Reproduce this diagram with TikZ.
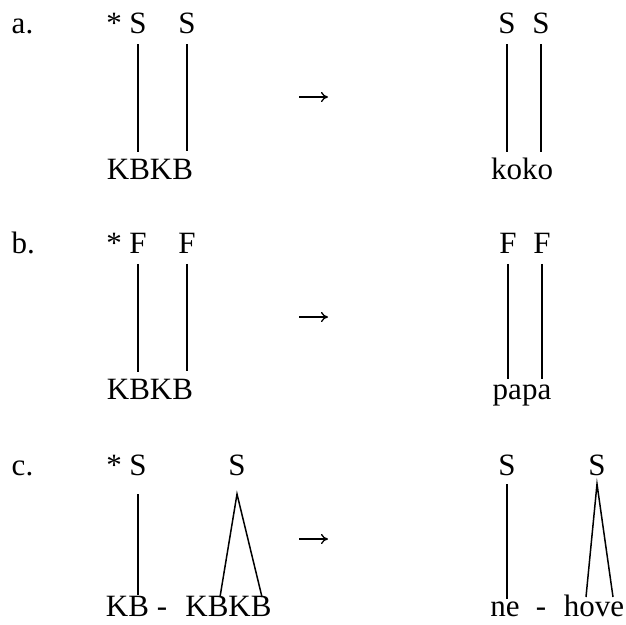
\documentclass[tikz,border=0pt]{standalone}
\usepackage{fontspec}
\setmainfont{Liberation Serif}
\usetikzlibrary{arrows.meta}
\begin{document}
\begin{tikzpicture}[x=1pt, y=-1pt, line width=1.5pt,
    every node/.style={inner sep=0pt, font=\fontsize{31}{36}\selectfont},
    ling/.style={anchor=base},
    rule/.style={line width=1.3pt, -{To[length=7pt,width=10pt]}}]
  \useasboundingbox (0,0) rectangle (626,624);
  % a.
  \node[anchor=base west] (la) at (11,33) {a.};
  \node[ling] (sta) at (114,33) {*};
  \node[ling] (sa1) at (138,33) {S};
  \node[ling] (sa2) at (187,33) {S};
  \node[ling] (kba) at (150,179) {KBKB};
  \draw ([yshift=-10pt]sa1.south) -- ([yshift=6pt]kba.north -| sa1);
  \draw ([yshift=-10pt]sa2.south) -- ([yshift=7pt]kba.north -| sa2);
  \coordinate (ara0) at (299,97);
  \coordinate (ara1) at (328,97);
  \draw[rule] (ara0) -- (ara1);
  \node[ling] (ta1) at (507,33) {S};
  \node[ling] (ta2) at (541,33) {S};
  \node[ling] (koko) at (522,179) {koko};
  \draw ([yshift=-10pt]ta1.south) -- ([yshift=5pt]koko.north -| ta1);
  \draw ([yshift=-10pt]ta2.south) -- ([yshift=5pt]koko.north -| ta2);
  % b.
  \node[anchor=base west] (lb) at (11,253) {b.};
  \node[ling] (stb) at (114,253) {*};
  \node[ling] (fb1) at (138,253) {F};
  \node[ling] (fb2) at (187,253) {F};
  \node[ling] (kbb) at (150,399) {KBKB};
  \draw ([yshift=-10pt]fb1.south) -- ([yshift=6pt]kbb.north -| fb1);
  \draw ([yshift=-10pt]fb2.south) -- ([yshift=7pt]kbb.north -| fb2);
  \coordinate (arb0) at (299,317);
  \coordinate (arb1) at (328,317);
  \draw[rule] (arb0) -- (arb1);
  \node[ling] (tb1) at (508,253) {F};
  \node[ling] (tb2) at (542,253) {F};
  \node[ling] (papa) at (522,399) {papa};
  \draw ([yshift=-10pt]tb1.south) -- ([yshift=5pt]papa.north -| tb1);
  \draw ([yshift=-10pt]tb2.south) -- ([yshift=5pt]papa.north -| tb2);
  % c.
  \node[anchor=base west] (lc) at (11,475) {c.};
  \node[ling] (stc) at (114,475) {*};
  \node[ling] (sc1) at (138,475) {S};
  \node[ling] (sc2) at (237,475) {S};
  \node[ling] (kbc1) at (127.5,616) {KB};
  \node[ling] (dc1) at (162,616) {-};
  \node[ling] (kbc2) at (228.5,616) {KBKB};
  \coordinate (c2l) at (220,597);
  \coordinate (c2r) at (262,597);
  \draw ([yshift=-18pt]sc1.south) -- (kbc1.north -| sc1);
  \draw (c2l) -- ([yshift=-18pt]sc2.south) -- (c2r);
  \coordinate (arc0) at (299,539);
  \coordinate (arc1) at (328,539);
  \draw[rule] (arc0) -- (arc1);
  \node[ling] (tc1) at (507,475) {S};
  \node[ling] (tc2) at (597,475) {S};
  \node[ling] (ne) at (505,616) {ne};
  \node[ling] (dc2) at (541,616) {-};
  \node[ling] (hove) at (594,616) {hove};
  \coordinate (d2l) at (586,597);
  \coordinate (d2r) at (613,597);
  \draw ([yshift=-8pt]tc1.south) -- ([yshift=2pt]ne.north -| tc1);
  \draw (d2l) -- ([yshift=-8pt]tc2.south) -- (d2r);
\end{tikzpicture}
\end{document}
